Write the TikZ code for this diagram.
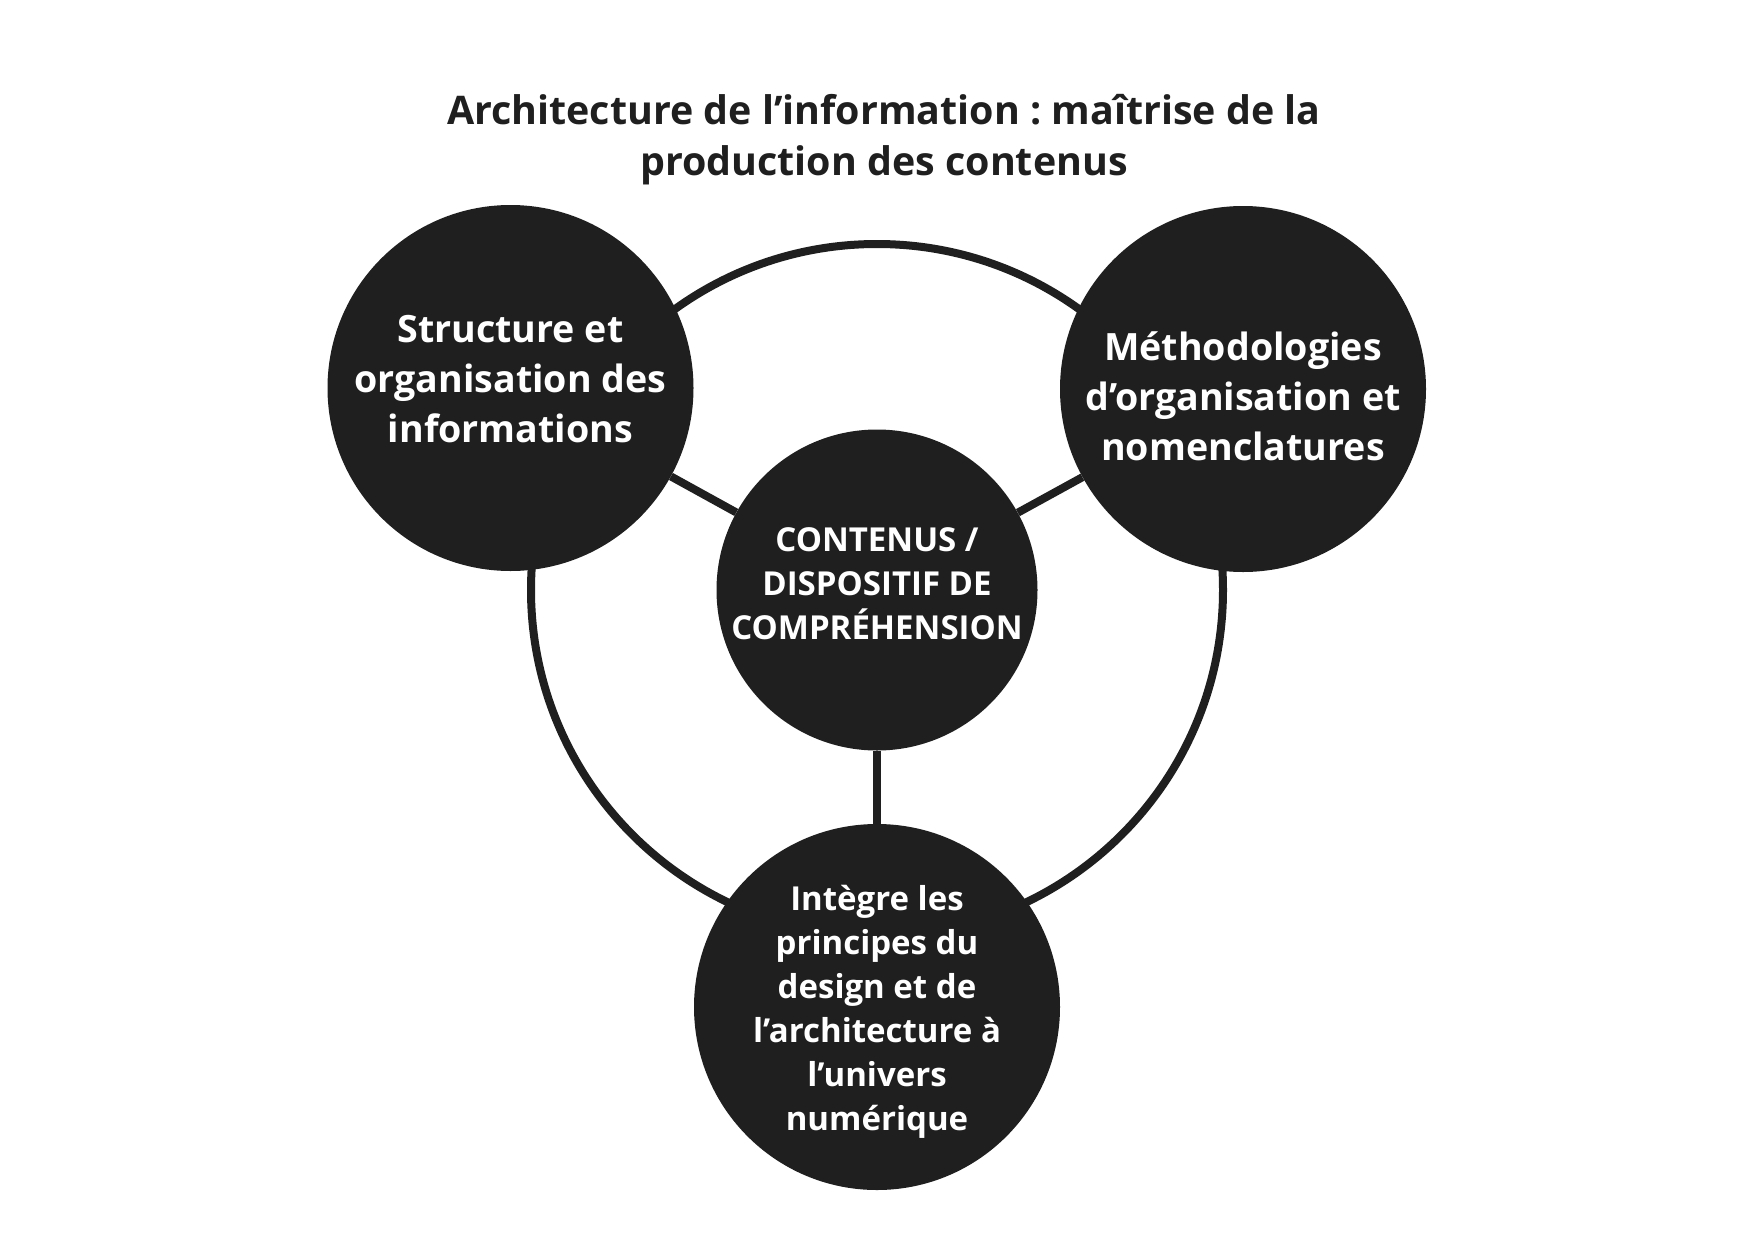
\documentclass[tikz,border=0pt]{standalone}
\usepackage{fontspec}
\setmainfont{Open Sans}
\usetikzlibrary{backgrounds}
\definecolor{ink}{HTML}{1F1F1F}
\frenchspacing
\begin{document}
\begin{tikzpicture}[x=1pt,y=-1pt,
  bubble/.style={circle, fill=ink, inner sep=0pt},
  bigbubble/.style={bubble, minimum size=366pt},
  midbubble/.style={bubble, minimum size=321pt},
  bigtext/.style={text=white, align=center, font=\fontsize{37.6}{50}\selectfont\bfseries},
  smalltext/.style={text=white, align=center, font=\fontsize{33}{44}\selectfont\bfseries},
  link/.style={draw=ink, line width=8pt}]
\useasboundingbox (0,0) rectangle (1754,1240);

% heading
\node[align=center, text=ink, font=\fontsize{39.4}{51}\selectfont\bfseries] (title) at (884,140)
  {Architecture de l’information : maîtrise de la\\production des contenus};

% the four discs with their captions
\node[midbubble, label={[smalltext, yshift=6pt]center:CONTENUS /\\DISPOSITIF DE\\COMPRÉHENSION}] (c) at (877,590) {};
\node[bigbubble, label={[bigtext, yshift=9pt]center:Structure et\\organisation des\\informations}] (l) at (510.5,388) {};
\node[bigbubble, label={[bigtext, yshift=-7pt]center:Méthodologies\\d’organisation et\\nomenclatures}] (r) at (1243,389) {};
\node[bigbubble, label={[smalltext, yshift=-5pt]center:Intègre les\\principes du\\design et de\\l’architecture à\\l’univers\\numérique}] (b) at (877,1007) {};

% ring and spokes behind the discs
\begin{scope}[on background layer]
  \draw[link] (c.center) circle[radius=346pt];
  \draw[link] (c) -- (l);
  \draw[link] (c) -- (r);
  \draw[link] (c) -- (b);
\end{scope}
\end{tikzpicture}
\end{document}
